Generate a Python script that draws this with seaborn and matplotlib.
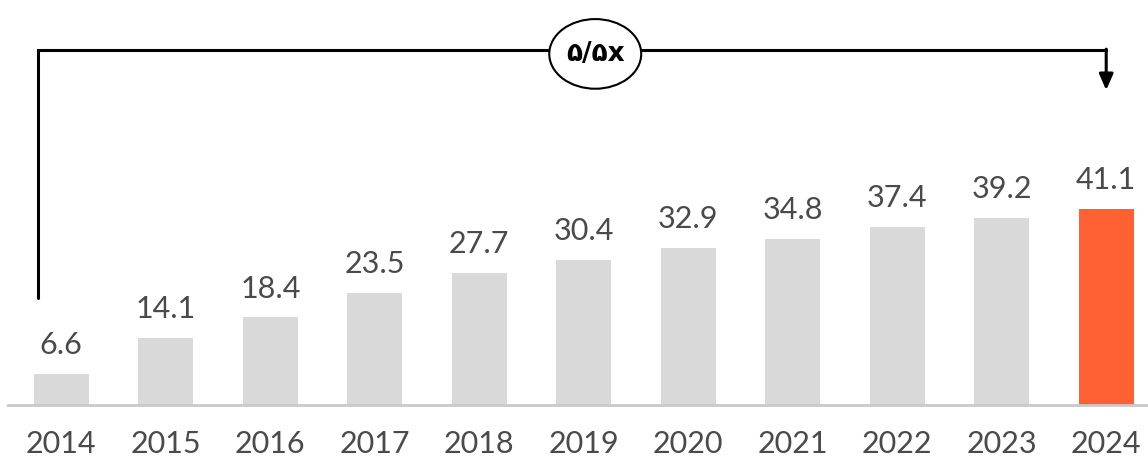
import matplotlib
matplotlib.use("Agg")
import matplotlib.pyplot as plt
import seaborn as sns
from matplotlib.patches import Ellipse

years = ["2014", "2015", "2016", "2017", "2018", "2019", "2020", "2021", "2022", "2023", "2024"]
values = [6.6, 14.1, 18.4, 23.5, 27.7, 30.4, 32.9, 34.8, 37.4, 39.2, 41.1]
value_labels = ["6.6", "14.1", "18.4", "23.5", "27.7", "30.4", "32.9", "34.8", "37.4", "39.2", "41.1"]
growth_label = "۵/۵x"

grey = "#D9D9D9"
orange = "#FF6135"
colors = [grey] * (len(years) - 1) + [orange]

sns.set_theme(style="white")
plt.rcParams["font.family"] = ["Lato", "DejaVu Sans"]

fig = plt.figure(figsize=(11.48, 4.58), dpi=100)
ax = fig.add_axes([8 / 1148, (458 - 405) / 458, 1 - 8 / 1148, 405 / 458])

sns.barplot(x=years, y=values, hue=years, palette=colors, legend=False,
            width=0.53, saturation=1, ax=ax, edgecolor="none")

ax.set_xlim(-0.51, 10.40)
ax.set_ylim(0, 84.9)

for i, (v, lab) in enumerate(zip(values, value_labels)):
    ax.text(i, v + 6.0, lab, ha="center", va="center", fontsize=22,
            color="#4a4a4a")

for s in ["left", "right", "top"]:
    ax.spines[s].set_visible(False)
ax.spines["bottom"].set_color("#C9C9C9")
ax.spines["bottom"].set_linewidth(2)
ax.set_yticks([])
ax.tick_params(axis="x", length=0, pad=18, labelsize=22, labelcolor="#4a4a4a")
ax.set_xlabel("")
ax.set_ylabel("")

# bracket
ax.plot([-0.22, -0.22, 10.0], [22.4, 74.4, 74.4], color="black", lw=2.2,
        solid_joinstyle="miter", clip_on=False, zorder=3)
ax.annotate("", xy=(10.0, 66.0), xytext=(10.0, 74.6),
            arrowprops=dict(arrowstyle="-|>,head_width=0.35,head_length=0.8",
                            color="black", lw=2.2, shrinkA=0, shrinkB=0),
            annotation_clip=False, zorder=3)
ell = Ellipse((5.11, 73.6), width=0.88, height=14.6, facecolor="white",
              edgecolor="black", lw=1.5, zorder=4, clip_on=False)
ax.add_patch(ell)
ax.text(5.11, 73.6, growth_label, ha="center", va="center", fontsize=19,
        fontweight="bold", color="black", family=["DejaVu Sans"], zorder=5)

fig.savefig("out.png", dpi=100)
